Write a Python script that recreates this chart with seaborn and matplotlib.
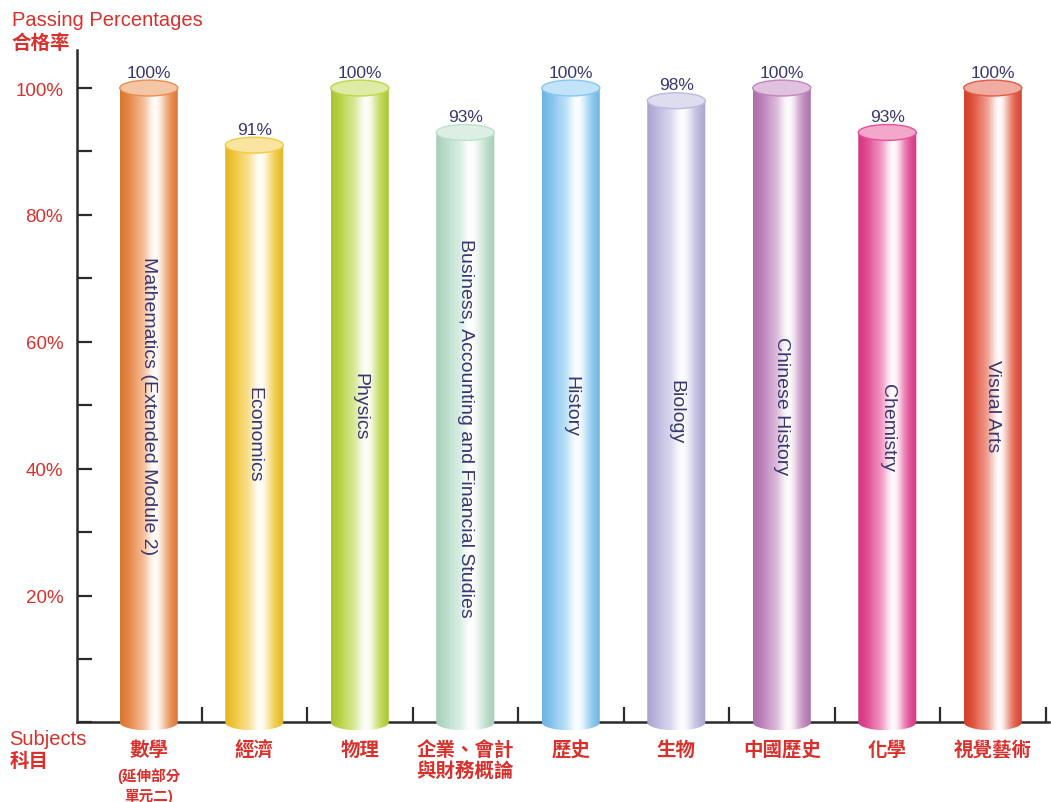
import numpy as np
import pandas as pd
import matplotlib
matplotlib.use("Agg")
import matplotlib.pyplot as plt
import seaborn as sns
from matplotlib.path import Path
from matplotlib.patches import PathPatch, Ellipse
from matplotlib.colors import to_rgb

# ---------------- data ----------------
subjects_en = ["Mathematics (Extended Module 2)", "Economics", "Physics",
               "Business, Accounting and Financial Studies", "History", "Biology",
               "Chinese History", "Chemistry", "Visual Arts"]
subjects_zh = ["數學", "經濟", "物理", "企業、會計\n與財務概論", "歷史", "生物",
               "中國歷史", "化學", "視覺藝術"]
subject_notes = ["(延伸部分\n單元二)", "", "", "", "", "", "", "", ""]
pass_rates = [100, 91, 100, 93, 100, 98, 100, 93, 100]
bar_colors = ["#e8803a", "#f2c42c", "#b4d236", "#b4dcc6", "#79c1ef",
              "#b6b2dc", "#b978b6", "#e23c8c", "#e0472e"]
y_ticks = [0, 20, 40, 60, 80, 100]
y_ticklabels = ["", "20%", "40%", "60%", "80%", "100%"]
y_minor = [10, 30, 50, 70, 90]

RED = "#d9302c"
NAVY = "#37376f"

sns.set_theme(style="white")
plt.rcParams["font.family"] = ["Liberation Sans", "Noto Sans CJK TC", "DejaVu Sans"]

fig = plt.figure(figsize=(10.51, 8.03), dpi=100)
ax = fig.add_axes([0.0733, 0.0785, 0.9245, 0.858])

df = pd.DataFrame({"subject": subjects_en, "rate": pass_rates})
sns.barplot(data=df, x="subject", y="rate", hue="subject", palette=bar_colors,
            legend=False, width=0.55, ax=ax)
bars = list(ax.patches)

eh = 2.5  # ellipse height in data units


def mix(c, t):
    c = np.array(to_rgb(c))
    return tuple(c + (1 - c) * t)


tt = np.linspace(0, 1, 200)
white_w = 0.97 * np.exp(-((tt - 0.6) / 0.2) ** 2) + 0.22 * np.exp(-((tt - 0.3) / 0.15) ** 2)
white_w = np.clip(white_w, 0, 1)
edge_dark = 1 - 0.08 * (np.abs(tt - 0.5) * 2) ** 4

for p, col, v, en in zip(bars, bar_colors, pass_rates, subjects_en):
    x0 = p.get_x(); w = p.get_width(); xc = x0 + w / 2
    p.set_visible(False)
    th = np.linspace(np.pi, 2 * np.pi, 80)
    ex = xc + w / 2 * np.cos(th)
    ey = eh / 2 * np.sin(th)
    verts = [(x0, v)] + list(zip(ex, ey)) + [(x0 + w, v), (x0, v)]
    codes = [Path.MOVETO] + [Path.LINETO] * (len(verts) - 2) + [Path.CLOSEPOLY]
    body = PathPatch(Path(verts, codes), transform=ax.transData,
                     facecolor="none", edgecolor="none")
    ax.add_patch(body)
    base = np.array(to_rgb(col))
    img = base[None, :] * edge_dark[:, None]
    img = img + (1 - img) * white_w[:, None]
    img = img[None, :, :]
    im = ax.imshow(img, extent=(x0, x0 + w, -eh / 2, v), aspect="auto",
                   interpolation="bilinear", zorder=2)
    im.set_clip_path(body)
    cap = Ellipse((xc, v), w, eh, facecolor=mix(col, 0.55),
                  edgecolor=mix(col, 0.1), lw=1.0, zorder=3)
    ax.add_patch(cap)
    ax.text(xc, v + 1.3, f"{v}%", ha="center", va="bottom", fontsize=12.5,
            color=NAVY)
    ax.text(xc, v / 2, en, rotation=-90, ha="center", va="center",
            fontsize=14, color=NAVY, zorder=4)

ax.set_xlim(-0.68, 8.53)
ax.set_ylim(-2.6, 106)
ax.set_xlabel("")
ax.set_ylabel("")

for s in ["top", "right"]:
    ax.spines[s].set_visible(False)
ax.spines["bottom"].set_position(("data", 0))
ax.spines["left"].set_bounds(0, 106)
for s in ["left", "bottom"]:
    ax.spines[s].set_color("#2b2b2b")
    ax.spines[s].set_linewidth(1.8)
    ax.spines[s].set_zorder(1)

ax.set_yticks(y_ticks)
ax.set_yticklabels(y_ticklabels)
ax.set_yticks(y_minor, minor=True)
ax.tick_params(axis="y", which="both", direction="in", length=11, width=1.6,
               color="#2b2b2b", left=True, pad=10, labelsize=13.5, labelcolor=RED)

ax.set_xticks(range(len(subjects_zh)))
ax.set_xticklabels(subjects_zh, fontsize=14, fontweight="bold", color=RED,
                   linespacing=1.15)
ax.set_xticks(np.arange(0.5, len(subjects_zh), 1.0), minor=True)
ax.tick_params(axis="x", which="major", length=0, pad=13)
ax.tick_params(axis="x", which="minor", direction="in", length=11, width=1.6,
               color="#2b2b2b", bottom=True)
for lab in ax.get_xticklabels():
    lab.set_va("top")

for i, note in enumerate(subject_notes):
    if note:
        ax.annotate(note, xy=(i, 0), xycoords="data", xytext=(0, -32),
                    textcoords="offset points", ha="center", va="top",
                    fontsize=10.5, fontweight="bold", color=RED, linespacing=1.45)

fig.text(0.011, 0.975, "Passing Percentages", fontsize=14.5, color=RED,
         ha="left", va="center")
fig.text(0.011, 0.946, "合格率", fontsize=14, fontweight="bold", color=RED,
         ha="left", va="center")
fig.text(0.009, 0.079, "Subjects", fontsize=14.5, color=RED, ha="left", va="center")
fig.text(0.009, 0.051, "科目", fontsize=14, fontweight="bold", color=RED,
         ha="left", va="center")

fig.savefig("out.png", dpi=100)
